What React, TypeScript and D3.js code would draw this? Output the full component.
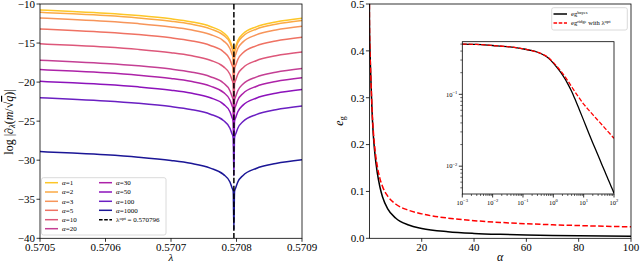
import React from 'react';
import * as d3 from 'd3';

// ---------- Left panel data ----------
const lambdaGrid = [0.5705, 0.57055, 0.5706, 0.57065, 0.5707, 0.57073, 0.57076, 0.57078, 0.57079, 0.570793, 0.570795, 0.570796, 0.570797, 0.570799, 0.570802, 0.57081, 0.57083, 0.57086, 0.5709];
const lambdaOpt = 0.570796;
const alphaLabels = ['1', '2', '3', '5', '10', '20', '30', '50', '100', '1000'];
const alphaColors = ['#fdc627', '#fbaa45', '#f7955a', '#ef7263', '#dd577a', '#c43f94', '#ad22a8', '#8c12bb', '#6a1fc2', '#1b1696'];
const logA1 = [-10.77, -10.96, -11.18, -11.48, -11.90, -12.27, -12.88, -13.69, -14.67, -15.36, -15.87, -20.77, -15.87, -15.36, -14.67, -13.82, -12.93, -12.30, -11.82];
const logA2 = [-11.07, -11.26, -11.48, -11.78, -12.20, -12.57, -13.18, -13.99, -14.97, -15.66, -16.17, -21.07, -16.17, -15.66, -14.97, -14.12, -13.23, -12.60, -12.12];
const logA3 = [-11.80, -11.99, -12.21, -12.51, -12.93, -13.30, -13.91, -14.72, -15.70, -16.39, -16.90, -21.80, -16.90, -16.39, -15.70, -14.85, -13.96, -13.33, -12.85];
const logA5 = [-13.20, -13.39, -13.61, -13.91, -14.33, -14.70, -15.31, -16.12, -17.10, -17.79, -18.30, -23.20, -18.30, -17.79, -17.10, -16.25, -15.36, -14.73, -14.25];
const logA10 = [-15.10, -15.29, -15.51, -15.81, -16.23, -16.60, -17.21, -18.02, -19.00, -19.69, -20.20, -25.10, -20.20, -19.69, -19.00, -18.15, -17.26, -16.63, -16.15];
const logA20 = [-17.20, -17.39, -17.61, -17.91, -18.33, -18.70, -19.31, -20.12, -21.10, -21.79, -22.30, -27.20, -22.30, -21.79, -21.10, -20.25, -19.36, -18.73, -18.25];
const logA30 = [-18.40, -18.59, -18.81, -19.11, -19.53, -19.90, -20.51, -21.32, -22.30, -22.99, -23.50, -28.40, -23.50, -22.99, -22.30, -21.45, -20.56, -19.93, -19.45];
const logA50 = [-19.90, -20.09, -20.31, -20.61, -21.03, -21.40, -22.01, -22.82, -23.80, -24.49, -25.00, -29.90, -25.00, -24.49, -23.80, -22.95, -22.06, -21.43, -20.95];
const logA100 = [-22.00, -22.19, -22.41, -22.71, -23.13, -23.50, -24.11, -24.92, -25.90, -26.59, -27.10, -32.00, -27.10, -26.59, -25.90, -25.05, -24.16, -23.53, -23.05];
const logA1000 = [-28.90, -29.09, -29.31, -29.61, -30.03, -30.40, -31.01, -31.82, -32.80, -33.49, -34.00, -38.90, -34.00, -33.49, -32.80, -31.95, -31.06, -30.43, -29.95];
const leftSeries = [logA1, logA2, logA3, logA5, logA10, logA20, logA30, logA50, logA100, logA1000];
const leftYTicks = [-10, -15, -20, -25, -30, -35, -40];
const leftXTicks = [0.5705, 0.5706, 0.5707, 0.5708, 0.5709];

// ---------- Right panel data ----------
const alphaVals = [0.001, 0.003, 0.01, 0.03, 0.1, 0.2, 0.3, 0.5, 0.7, 1, 1.5, 2, 3, 4, 5, 7, 10, 15, 20, 30, 40, 50, 60, 70, 80, 90, 100];
const egBayes = [0.500, 0.495, 0.478, 0.462, 0.430, 0.405, 0.385, 0.350, 0.318, 0.272, 0.220, 0.186, 0.140, 0.110, 0.0888, 0.0630, 0.0434, 0.0283, 0.0211, 0.0141, 0.0105, 0.0084, 0.0070, 0.0060, 0.00527, 0.00468, 0.0042];
const egRidge = [0.500, 0.495, 0.478, 0.462, 0.430, 0.405, 0.386, 0.352, 0.322, 0.278, 0.229, 0.197, 0.1545, 0.128, 0.1108, 0.090, 0.0732, 0.0598, 0.0521, 0.0431, 0.0377, 0.0339, 0.0311, 0.0289, 0.0272, 0.0257, 0.0245];
const rightYTicks = [0, 0.1, 0.2, 0.3, 0.4, 0.5];
const rightXTicks = [20, 40, 60, 80, 100];
const insetXTicks = [-3, -2, -1, 0, 1, 2];
const insetYTicks = [-2, -1];

const FONT = '"Liberation Serif", "DejaVu Serif", serif';

export default function App() {
  // left axes
  const L = { x0: 40, x1: 302, y0: 4, y1: 238.3 };
  const lx = d3.scaleLinear().domain([0.5705, 0.5709]).range([L.x0, L.x1]);
  const ly = d3.scaleLinear().domain([-40, -10]).range([L.y1, L.y0]);
  const lline = d3.line<number>().x((_, i) => lx(lambdaGrid[i])).y(d => ly(d)).curve(d3.curveMonotoneX);

  // right axes
  const R = { x0: 369.4, x1: 631, y0: 4, y1: 238.3 };
  const rx = d3.scaleLinear().domain([0, 100]).range([R.x0, R.x1]);
  const ry = d3.scaleLinear().domain([0, 0.5]).range([R.y1, R.y0]);
  const rline = (vals: number[]) => d3.line<number>().x((_, i) => rx(alphaVals[i])).y(d => ry(d)).curve(d3.curveMonotoneX)(vals) || '';

  // inset
  const I = { x0: 462.3, x1: 614, y0: 41.7, y1: 194 };
  const ix = d3.scaleLog().domain([1e-3, 1e2]).range([I.x0, I.x1]);
  const iy = d3.scaleLog().domain([0.0041, 0.54]).range([I.y1, I.y0]);
  const iline = (vals: number[]) => d3.line<number>().x((_, i) => ix(alphaVals[i])).y(d => iy(d)).curve(d3.curveMonotoneX)(vals) || '';

  const insetXMinor: number[] = [];
  for (let e = -3; e < 2; e++) for (let k = 2; k <= 9; k++) insetXMinor.push(k * Math.pow(10, e));
  const insetYMinor: number[] = [];
  for (let e = -3; e < 0; e++) for (let k = 2; k <= 9; k++) {
    const v = k * Math.pow(10, e);
    if (v >= 0.0041 && v <= 0.54) insetYMinor.push(v);
  }

  const legendRows = [182.7, 192, 201.3, 210.3, 219.7, 228.7];

  return (
    <svg width={640} height={263} style={{ position: 'absolute', left: 0, top: 0, background: '#fff' }} fontFamily={FONT}>
      <defs>
        <clipPath id="clipL"><rect x={L.x0} y={L.y0} width={L.x1 - L.x0} height={L.y1 - L.y0} /></clipPath>
        <clipPath id="clipR"><rect x={R.x0} y={R.y0} width={R.x1 - R.x0} height={R.y1 - R.y0} /></clipPath>
        <clipPath id="clipI"><rect x={I.x0} y={I.y0} width={I.x1 - I.x0} height={I.y1 - I.y0} /></clipPath>
      </defs>
      <rect width={640} height={263} fill="#fff" />

      {/* ---------------- LEFT PANEL ---------------- */}
      <g clipPath="url(#clipL)">
        {leftSeries.map((s, i) => (
          <path key={i} d={lline(s) || ''} fill="none" stroke={alphaColors[i]} strokeWidth={1.5} />
        ))}
        <line x1={lx(lambdaOpt)} x2={lx(lambdaOpt)} y1={L.y0} y2={L.y1} stroke="#000" strokeWidth={1.5} strokeDasharray="5.5,2.4" />
      </g>
      <rect x={L.x0} y={L.y0} width={L.x1 - L.x0} height={L.y1 - L.y0} fill="none" stroke="#000" strokeWidth={0.8} />
      {leftYTicks.map(t => (
        <g key={t}>
          <line x1={L.x0 - 3.5} x2={L.x0} y1={ly(t)} y2={ly(t)} stroke="#000" strokeWidth={0.8} />
          <text x={L.x0 - 5} y={ly(t)} dy="0.35em" textAnchor="end" fontSize={11}>{'\u2212' + Math.abs(t)}</text>
        </g>
      ))}
      {leftXTicks.map(t => (
        <g key={t}>
          <line x1={lx(t)} x2={lx(t)} y1={L.y1} y2={L.y1 + 3.5} stroke="#000" strokeWidth={0.8} />
          <text x={lx(t)} y={250.5} textAnchor="middle" fontSize={11}>{t.toFixed(4)}</text>
        </g>
      ))}
      <text x={(L.x0 + L.x1) / 2} y={261} textAnchor="middle" fontSize={11} fontStyle="italic">λ</text>
      <text transform="translate(13,122) rotate(-90)" textAnchor="middle" fontSize={12}>
        log |∂<tspan fontSize={8.5} dy={2} fontStyle="italic">λ</tspan><tspan dy={-2}>(</tspan><tspan fontStyle="italic">m</tspan>/√<tspan fontStyle="italic" textDecoration="overline">q</tspan>)|
      </text>

      {/* left legend */}
      <rect x={41.5} y={177.7} width={124.5} height={57.3} rx={2} fill="#fff" fillOpacity={0.8} stroke="#d0d0d0" strokeWidth={0.8} />
      {alphaLabels.map((a, i) => {
        const col = i < 6 ? 0 : 1;
        const row = i < 6 ? i : i - 6;
        const x0 = col === 0 ? 45 : 99;
        const y = legendRows[row];
        return (
          <g key={a}>
            <line x1={x0} x2={x0 + 13} y1={y} y2={y} stroke={alphaColors[i]} strokeWidth={1.5} />
            <text x={x0 + 17} y={y} dy="0.33em" fontSize={7}><tspan fontStyle="italic">α</tspan>={a}</text>
          </g>
        );
      })}
      <line x1={99} x2={112} y1={legendRows[4]} y2={legendRows[4]} stroke="#000" strokeWidth={1.5} strokeDasharray="3.6,1.6" />
      <text x={116} y={legendRows[4]} dy="0.33em" fontSize={7}>λ<tspan fontSize={5} dy={-2.5}>opt</tspan><tspan dy={2.5}> = 0.570796</tspan></text>

      {/* ---------------- RIGHT PANEL ---------------- */}
      <g clipPath="url(#clipR)">
        <path d={rline(egBayes)} fill="none" stroke="#000" strokeWidth={1.5} />
        <path d={rline(egRidge)} fill="none" stroke="#ff0000" strokeWidth={1.5} strokeDasharray="5.5,2.4" />
      </g>
      <rect x={R.x0} y={R.y0} width={R.x1 - R.x0} height={R.y1 - R.y0} fill="none" stroke="#000" strokeWidth={0.8} />
      {rightYTicks.map(t => (
        <g key={t}>
          <line x1={R.x0 - 3.5} x2={R.x0} y1={ry(t)} y2={ry(t)} stroke="#000" strokeWidth={0.8} />
          <text x={R.x0 - 5} y={ry(t)} dy="0.35em" textAnchor="end" fontSize={11}>{t.toFixed(1)}</text>
        </g>
      ))}
      {rightXTicks.map(t => (
        <g key={t}>
          <line x1={rx(t)} x2={rx(t)} y1={R.y1} y2={R.y1 + 3.5} stroke="#000" strokeWidth={0.8} />
          <text x={rx(t)} y={250.5} textAnchor="middle" fontSize={11}>{t}</text>
        </g>
      ))}
      <text x={(R.x0 + R.x1) / 2} y={261} textAnchor="middle" fontSize={12} fontStyle="italic">α</text>
      <text transform="translate(343,121) rotate(-90)" textAnchor="middle" fontSize={12}>
        <tspan fontStyle="italic">e</tspan><tspan fontSize={8} dy={2}>g</tspan>
      </text>

      {/* right legend */}
      <rect x={551.7} y={7.7} width={75.6} height={22.3} rx={2} fill="#fff" fillOpacity={0.8} stroke="#d0d0d0" strokeWidth={0.8} />
      <line x1={553.5} x2={567} y1={14} y2={14} stroke="#000" strokeWidth={1.5} />
      <text x={571} y={14} dy="0.33em" fontSize={6.5}>eg<tspan fontSize={4.6} dy={-2.5}>bayes</tspan></text>
      <line x1={553.5} x2={567} y1={23} y2={23} stroke="#ff0000" strokeWidth={1.5} strokeDasharray="3.6,1.6" />
      <text x={571} y={23} dy="0.33em" fontSize={6.5}>eg<tspan fontSize={4.6} dy={-2.5}>ridge</tspan><tspan dy={2.5}> with λ</tspan><tspan fontSize={4.6} dy={-2.5}>opt</tspan></text>

      {/* inset */}
      <rect x={I.x0} y={I.y0} width={I.x1 - I.x0} height={I.y1 - I.y0} fill="#fff" />
      <g clipPath="url(#clipI)">
        <path d={iline(egBayes)} fill="none" stroke="#000" strokeWidth={1.3} />
        <path d={iline(egRidge)} fill="none" stroke="#ff0000" strokeWidth={1.3} strokeDasharray="4.4,1.9" />
      </g>
      <rect x={I.x0} y={I.y0} width={I.x1 - I.x0} height={I.y1 - I.y0} fill="none" stroke="#000" strokeWidth={0.8} />
      {insetXMinor.map((v, i) => (
        <line key={'xm' + i} x1={ix(v)} x2={ix(v)} y1={I.y1} y2={I.y1 + 2} stroke="#000" strokeWidth={0.6} />
      ))}
      {insetYMinor.map((v, i) => (
        <line key={'ym' + i} x1={I.x0 - 2} x2={I.x0} y1={iy(v)} y2={iy(v)} stroke="#000" strokeWidth={0.6} />
      ))}
      {insetXTicks.map(e => (
        <g key={'xt' + e}>
          <line x1={ix(Math.pow(10, e))} x2={ix(Math.pow(10, e))} y1={I.y1} y2={I.y1 + 3.5} stroke="#000" strokeWidth={0.8} />
          <text x={ix(Math.pow(10, e))} y={I.y1 + 11} textAnchor="middle" fontSize={6.5}>10<tspan fontSize={4.6} dy={-2.8}>{e < 0 ? '\u2212' + Math.abs(e) : String(e)}</tspan></text>
        </g>
      ))}
      {insetYTicks.map(e => (
        <g key={'yt' + e}>
          <line x1={I.x0 - 3.5} x2={I.x0} y1={iy(Math.pow(10, e))} y2={iy(Math.pow(10, e))} stroke="#000" strokeWidth={0.8} />
          <text x={I.x0 - 5} y={iy(Math.pow(10, e))} dy="0.35em" textAnchor="end" fontSize={6.5}>10<tspan fontSize={4.6} dy={-2.8}>{'\u2212' + Math.abs(e)}</tspan></text>
        </g>
      ))}
    </svg>
  );
}
